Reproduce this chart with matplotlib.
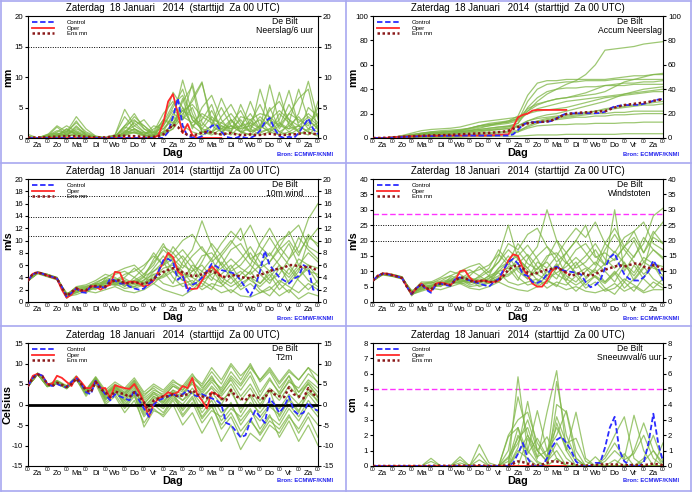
import numpy as np
import matplotlib.pyplot as plt
from matplotlib.lines import Line2D

plt.rcParams['font.family'] = ['Liberation Sans', 'DejaVu Sans']

# time axes in days since Za 18 Jan 00 UTC
t6 = np.arange(61) * 0.25
t12 = np.arange(31) * 0.5
days = ['Za', 'Zo', 'Ma', 'Di', 'Wo', 'Do', 'Vr', 'Za', 'Zo', 'Ma', 'Di', 'Wo', 'Do', 'Vr', 'Za']
title = 'Zaterdag  18 Januari   2014  (starttijd  Za 00 UTC)'

# ---------------- Neerslag / 6 uur (mm) ----------------
pr_ctrl = [0, 0, 0, 0,  0, 0, 0, 0,  0, 0, 0, 0,  0, 0, 0, 0,  0, 0, 0, 0,
           0, 0, 0, 0,  0, 0, 0, 0,  0, 1.0, 3.5, 6.5,  2.0, 0.3, 0.1, 0,
           0.3, 1.0, 2.0, 2.2,  1.0, 0.2, 0, 0,  0.3, 0, 0, 0.4,  1.2, 2.6, 3.3, 1.5,
           0.3, 0, 0.2, 0,  0.8, 2.0, 3.2, 1.5,  0.6]
pr_oper = [0, 0, 0, 0,  0, 0, 0, 0,  0, 0, 0, 0,  0, 0, 0, 0,  0, 0, 0, 0,
           0, 0, 0, 0,  0, 0, 0, 0.5,  2.5, 6.0, 7.2, 4.0,  0.8, 2.3, 0.5, 0,
           0, 0, 0, 0,  0]
pr_mean = [0.05, 0.05, 0.1, 0.1,  0.15, 0.2, 0.2, 0.25,  0.3, 0.3, 0.3, 0.25,
           0.2, 0.15, 0.1, 0.1,  0.1, 0.2, 0.3, 0.35,  0.35, 0.3, 0.3, 0.25,
           0.2, 0.15, 0.2, 0.3,  0.6, 1.3, 2.2, 1.8,  1.0, 0.5, 0.4, 0.6,
           0.9, 1.0, 0.9, 0.7,  0.6, 0.7, 0.8, 0.6,  0.5, 0.5, 0.6, 0.5,
           0.5, 0.6, 0.7, 0.6,  0.5, 0.5, 0.6, 0.6,  0.7, 0.8, 0.8, 0.7,  0.6]
pr_members = [
    [0.6, 0, 0, 0.5, 1.2, 0.8, 0.3, 0.2, 0, 0.3, 0.8, 1.0, 0.5, 0.3, 1.5, 3.0, 9.5, 4.0, 1.0, 0.5, 1.5, 2.0, 1.0, 0.5, 0.8, 1.5, 0.5, 1.0, 2.0, 1.0, 0.3],
    [0, 0, 0.3, 1.8, 0.5, 0.3, 0.1, 0, 0, 0, 1.0, 2.5, 1.0, 0.5, 2.0, 4.5, 3.5, 9.0, 2.5, 1.0, 0.5, 3.0, 1.5, 2.0, 3.0, 1.0, 0.5, 2.5, 1.0, 3.0, 1.5],
    [0, 0, 0, 0.5, 1.0, 3.5, 1.5, 0.3, 0, 0.5, 4.7, 2.0, 1.0, 0.2, 0.5, 1.5, 5.0, 2.0, 0.8, 2.0, 5.0, 2.0, 1.0, 3.0, 1.5, 8.7, 2.5, 1.0, 0.5, 1.5, 1.0],
    [0, 0, 0.2, 0.8, 0.5, 1.5, 0.8, 0.2, 0, 0.3, 1.5, 3.5, 2.0, 0.5, 1.0, 2.0, 4.0, 6.0, 9.0, 3.0, 1.0, 0.5, 2.0, 4.0, 1.5, 3.0, 2.0, 1.5, 4.0, 9.3, 3.0],
    [0, 0, 0.5, 2.0, 1.0, 2.5, 1.0, 0.3, 0.1, 0.5, 3.5, 1.5, 0.5, 0.3, 2.5, 5.5, 7.0, 3.0, 1.5, 3.5, 2.0, 1.0, 5.5, 2.0, 1.0, 1.5, 3.0, 7.8, 2.0, 1.0, 0.5],
    [0, 0, 0, 0.3, 0.8, 1.2, 0.5, 0, 0, 0.2, 2.0, 3.0, 1.5, 0.8, 3.0, 2.0, 6.5, 1.5, 5.0, 7.0, 3.0, 1.0, 0.5, 2.5, 5.5, 2.0, 1.0, 0.5, 1.5, 2.5, 4.0],
    [0, 0, 0.2, 1.0, 2.0, 1.0, 0.3, 0.1, 0, 0, 0.5, 1.5, 0.8, 1.0, 4.0, 6.0, 3.0, 5.0, 1.0, 0.8, 2.5, 4.0, 2.0, 1.0, 8.0, 3.0, 1.0, 2.0, 3.5, 1.5, 2.5],
    [0, 0, 0, 0.5, 0.5, 2.0, 0.5, 0.2, 0, 0.1, 1.0, 2.0, 3.0, 1.0, 0.5, 2.5, 4.5, 3.5, 2.0, 4.5, 1.5, 3.0, 1.0, 0.5, 2.0, 4.5, 6.0, 3.0, 1.0, 5.0, 3.5],
    [0.3, 0, 0.5, 0.5, 1.5, 0.5, 0.2, 0, 0.1, 0.3, 0.5, 1.0, 0.5, 0.2, 1.0, 2.0, 6.0, 8.5, 1.0, 2.0, 6.5, 3.0, 1.0, 1.5, 0.5, 1.0, 2.0, 4.0, 6.5, 8.0, 1.0],
    [0, 0, 0.1, 0.6, 0.3, 0.8, 0.3, 0, 0, 0, 0.8, 1.5, 0.5, 2.0, 1.5, 3.5, 2.0, 1.0, 0.5, 1.0, 2.0, 1.5, 3.0, 1.0, 2.0, 1.0, 2.5, 1.5, 2.0, 1.0, 6.0],
    [0, 0, 0.4, 1.2, 0.8, 2.8, 0.6, 0.1, 0, 0.2, 2.0, 4.0, 1.5, 0.5, 1.0, 4.0, 3.0, 6.5, 9.2, 2.0, 1.0, 2.5, 4.5, 1.5, 3.5, 2.0, 7.5, 2.0, 1.0, 0.5, 2.0],
    [0, 0, 0, 0.3, 1.5, 0.5, 0.2, 0, 0, 0.4, 1.2, 0.8, 0.5, 1.5, 2.5, 7.5, 5.0, 2.0, 3.0, 5.5, 1.0, 2.0, 1.5, 6.0, 2.0, 1.0, 4.0, 2.5, 8.0, 3.0, 1.5],
    [0, 0, 0.6, 0.8, 0.4, 1.8, 0.4, 0.1, 0, 0, 0.6, 2.8, 2.0, 0.8, 2.0, 5.0, 8.0, 3.0, 1.5, 1.0, 3.5, 5.5, 2.5, 1.0, 1.5, 5.0, 1.5, 4.0, 3.0, 2.0, 5.0],
    [0.2, 0, 0.2, 0.4, 0.6, 1.0, 0.2, 0, 0, 0.3, 1.8, 1.2, 0.8, 0.4, 3.0, 2.5, 4.5, 5.5, 3.5, 2.5, 1.5, 1.0, 3.5, 3.0, 4.0, 3.5, 2.0, 5.5, 2.5, 4.0, 2.5],
    [0, 0, 0.1, 0.2, 0.3, 0.6, 0.2, 0, 0, 0.1, 0.4, 0.9, 0.3, 0.2, 0.8, 1.5, 3.5, 2.5, 4.0, 3.0, 2.5, 1.5, 2.0, 2.5, 1.5, 3.0, 4.5, 3.0, 2.0, 3.5, 2.0],
]

# ---------------- Accum Neerslag (mm) ----------------
ac_ctrl = [0, 0, 0, 0,  0.2, 0.5, 0.8, 1.0,  1.2, 1.3, 1.4, 1.5,  1.5, 1.6, 1.7, 1.8,
           1.8, 1.9, 1.9, 2.0,  2.0, 2.0, 2.0, 2.0,  2.0, 2.0, 2.0, 2.0,  2.0, 3.0, 6.5, 11.0,
           12.5, 13.0, 13.0, 13.0,  13.2, 14.0, 16.0, 18.5,  20.0, 20.2, 20.2, 20.2,
           20.3, 20.3, 20.3, 20.5,  21.5, 24.0, 26.0, 26.5,  27.0, 27.0, 27.2, 27.2,
           28.0, 29.0, 30.5, 31.5,  32.0]
ac_oper = [0, 0, 0, 0.2,  0.5, 0.8, 1.0, 1.2,  1.4, 1.5, 1.6, 1.7,  1.8, 1.8, 1.9, 1.9,
           2.0, 2.0, 2.0, 2.0,  2.0, 2.0, 2.0, 2.0,  2.2, 2.3, 2.5, 2.8,  3.0, 9.0, 17.0, 19.0,
           20.0, 22.5, 23.0, 23.0,  23.0, 23.0, 23.0, 23.0,  23.0]
ac_mean = [0, 0, 0.1, 0.3,  0.5, 0.8, 1.0, 1.2,  1.4, 1.6, 1.8, 2.0,  2.1, 2.2, 2.3, 2.4,
           2.6, 2.8, 3.0, 3.2,  3.4, 3.6, 3.8, 4.0,  4.2, 4.5, 4.8, 5.2,  6.0, 7.5, 9.0, 10.5,
           12.0, 12.5, 13.0, 13.3,  13.6, 14.5, 16.0, 18.0,  19.6, 20.0, 20.5, 20.8,
           21.0, 21.2, 21.5, 21.8,  22.0, 23.5, 25.0, 26.0,  27.0, 27.5, 28.0, 28.5,
           29.0, 29.5, 30.5, 31.0,  32.0]
ac_members = [
    [0, 0, 0.5, 1, 2, 3, 4, 4.5, 5, 5.5, 6, 7, 8, 9, 10, 12, 22, 30, 36, 40, 44, 47, 52, 60, 72, 73, 74, 75, 77, 78, 79],
    [0, 0, 0.3, 1, 2, 2.5, 3, 3.5, 4, 5, 6, 8, 10, 12, 14, 18, 35, 45, 47, 47, 48, 48, 48, 48, 48, 49, 50, 51, 51, 52, 52],
    [0, 0, 0, 0.5, 1, 2, 2.5, 3, 3, 4, 5, 6, 7, 8, 9, 12, 25, 33, 38, 40, 41, 41, 42, 42, 43, 43, 43, 44, 44, 44, 44],
    [0, 0, 0.5, 1.5, 3, 4, 5, 5, 5.5, 6, 8, 10, 11, 12, 13, 16, 24, 28, 30, 32, 33, 34, 35, 36, 38, 42, 46, 48, 50, 52, 53],
    [0, 0, 0, 0.2, 0.5, 1, 1, 1, 1, 1.5, 2, 3, 3.5, 4, 4.5, 5, 8, 10, 10.5, 11, 11, 11.5, 11.5, 12, 12, 12, 12.5, 12.5, 13, 13, 13],
    [0, 0, 0, 0, 0.2, 0.5, 0.5, 0.5, 0.5, 0.5, 1, 1, 1.2, 1.5, 1.5, 1.5, 2, 2.5, 2.5, 2.5, 3, 3, 3, 3, 3, 3, 3.5, 3.5, 3.5, 3.5, 3.5],
    [0, 0, 0.5, 2, 4, 6, 7, 7.5, 8, 9, 11, 13, 14, 15, 16, 17, 20, 22, 23, 24, 25, 27, 29, 31, 33, 34, 35, 36, 37, 38, 38],
    [0, 0, 0.2, 1, 2, 3, 3.5, 4, 4, 5, 6, 7, 8, 9, 9.5, 10, 14, 17, 19, 20, 22, 24, 26, 28, 30, 33, 36, 38, 40, 41, 42],
    [0, 0, 0, 0.5, 1, 1.5, 1.5, 1.5, 1.5, 1.8, 2, 2.2, 2.5, 2.8, 3, 5, 10, 13, 15, 16, 17, 18, 19, 20, 20, 21, 21, 22, 22, 22, 22],
    [0, 0, 0.3, 1, 2, 3, 3.5, 4, 4, 4.5, 5, 6, 6.5, 7, 7.5, 9, 12, 14, 16, 17, 18, 19, 20, 22, 24, 25, 26, 27, 28, 29, 30],
    [0, 0, 0.5, 1.5, 2.5, 4, 5, 6, 6.5, 7, 8, 10, 11, 12, 13, 15, 20, 24, 26, 28, 30, 31, 32, 33, 34, 35, 36, 37, 38, 39, 40],
    [0, 0, 0.2, 0.8, 1.5, 2, 2.5, 3, 3, 3.5, 4, 5, 6, 7, 8, 10, 14, 16, 17, 18, 19, 20, 21, 22, 23, 24, 25, 26, 27, 27, 28],
    [0, 0, 0.3, 1, 2, 3, 4, 4.5, 5, 6, 7, 9, 10, 11, 12, 14, 30, 40, 44, 45, 46, 46, 47, 47, 47, 48, 48, 48, 48, 48, 48],
    [0, 0, 0, 0.3, 0.8, 1.2, 1.5, 1.8, 2, 2.5, 3, 4, 4.5, 5, 5.5, 6, 9, 12, 14, 15, 16, 17, 17, 18, 18, 19, 19, 19.5, 20, 20, 20],
    [0, 0, 0.4, 1.2, 2.5, 3.5, 4.5, 5, 5.5, 6.5, 8, 10, 12, 13, 14, 16, 22, 27, 30, 32, 33, 35, 37, 40, 43, 44, 45, 45, 46, 46, 47],
]

# ---------------- 10m wind (m/s) ----------------
wi_ctrl = [3.5, 4.5, 4.8, 4.6,  4.3, 4.1, 3.8, 2.5,  0.8, 1.5, 2.2, 1.6,  1.5, 2.6, 2.4, 2.5,
           2.3, 3.8, 3.5, 3.0,  3.0, 2.5, 2.2, 2.0,  2.2, 3.0, 3.5, 5.0,  6.8, 7.0, 6.5, 3.6,
           4.3, 1.7, 2.8, 3.2,  4.0, 5.0, 6.2, 5.8,  5.2, 5.0, 4.8, 4.5,  3.5, 2.3, 1.0, 2.5,
           5.0, 8.3, 6.0, 5.0,  4.0, 3.5, 3.0, 3.8,  4.2, 6.0, 5.5, 2.0,  2.0]
wi_oper = [3.5, 4.6, 4.8, 4.6,  4.3, 4.0, 3.8, 2.0,  0.7, 1.2, 2.3, 1.8,  1.8, 2.6, 2.5, 2.0,
           2.5, 2.8, 4.9, 4.8,  3.0, 3.3, 3.3, 3.0,  2.5, 2.8, 3.5, 5.0,  6.5, 8.0, 7.3, 5.0,
           4.3, 2.2, 2.1, 2.2,  3.5, 4.8, 5.8, 5.0,  4.2]
wi_mean = [3.5, 4.6, 4.8, 4.6,  4.3, 4.1, 3.8, 2.4,  1.0, 1.6, 2.2, 1.9,  1.9, 2.5, 2.6, 2.5,
           2.5, 3.2, 3.5, 3.5,  3.0, 3.1, 3.2, 3.1,  2.9, 3.3, 3.8, 4.4,  4.9, 5.2, 5.5, 5.3,
           4.8, 4.6, 4.2, 4.3,  4.5, 4.8, 5.0, 4.7,  4.2, 4.0, 4.3, 4.4,  4.1, 3.9, 3.9, 4.2,
           4.4, 4.7, 5.0, 5.3,  5.4, 5.6, 6.0, 6.0,  5.8, 5.6, 5.8, 5.5,  5.0]
wi_members = [
    [3.5, 4.9, 4.4, 3.9, 1.0, 1.8, 2.0, 2.8, 3.5, 3.2, 3.0, 2.5, 3.5, 5.5, 7.5, 5.0, 3.5, 5.0, 6.0, 4.0, 3.0, 5.5, 7.0, 9.0, 6.5, 5.0, 7.0, 9.5, 6.0, 8.0, 6.5],
    [3.6, 4.7, 4.2, 3.7, 1.2, 2.0, 1.5, 2.5, 3.0, 3.8, 2.5, 4.0, 5.5, 8.0, 6.0, 9.0, 7.0, 4.0, 3.0, 2.0, 4.5, 6.0, 3.5, 5.0, 8.0, 10.5, 8.0, 6.0, 4.0, 5.5, 3.0],
    [3.4, 4.8, 4.5, 4.0, 0.6, 2.2, 2.5, 2.0, 3.8, 2.8, 3.5, 3.0, 2.5, 4.5, 5.0, 3.0, 6.5, 8.5, 13.2, 9.0, 6.0, 4.0, 5.0, 3.5, 2.5, 4.0, 6.0, 3.0, 5.0, 10.0, 12.0],
    [3.5, 4.6, 4.1, 3.6, 1.5, 1.5, 2.2, 3.0, 2.5, 3.5, 4.0, 5.5, 4.0, 3.0, 4.5, 6.5, 5.0, 3.0, 2.5, 5.0, 7.5, 9.5, 12.0, 7.0, 5.5, 3.5, 4.5, 7.0, 9.0, 13.5, 16.0],
    [3.5, 4.8, 4.3, 3.8, 0.9, 1.2, 1.8, 1.5, 2.0, 2.5, 1.8, 1.5, 2.0, 3.0, 2.0, 1.5, 1.0, 2.0, 3.5, 2.5, 1.5, 2.0, 1.0, 0.8, 1.5, 2.5, 1.0, 2.0, 0.5, 1.5, 1.0],
    [3.6, 4.9, 4.5, 4.0, 1.1, 2.5, 2.8, 3.5, 4.5, 4.0, 3.0, 3.5, 4.5, 6.0, 9.0, 8.0, 10.0, 11.0, 8.5, 7.0, 9.5, 11.5, 10.0, 12.5, 9.0, 7.5, 10.0, 11.0, 12.5, 9.0, 8.0],
    [3.4, 4.7, 4.2, 3.9, 0.7, 1.9, 2.0, 2.2, 2.8, 3.0, 2.2, 2.5, 3.0, 3.5, 4.0, 5.0, 3.5, 6.0, 5.0, 7.0, 4.0, 3.0, 4.5, 6.0, 4.5, 3.0, 5.5, 4.0, 6.0, 5.0, 4.5],
    [3.5, 4.8, 4.4, 3.8, 1.3, 2.3, 1.8, 2.6, 3.2, 4.5, 5.0, 4.0, 3.0, 5.0, 6.0, 7.0, 8.5, 6.5, 4.0, 5.5, 3.0, 1.5, 3.0, 4.0, 2.0, 1.0, 3.0, 5.5, 3.5, 2.0, 3.5],
    [3.5, 4.7, 4.3, 3.7, 1.0, 2.0, 2.3, 2.4, 3.0, 3.3, 3.8, 3.0, 4.0, 7.0, 9.5, 6.5, 4.5, 4.0, 6.5, 9.5, 7.5, 5.0, 6.0, 8.0, 5.5, 6.5, 8.5, 10.0, 7.5, 11.0, 9.0],
    [3.5, 4.8, 4.3, 3.8, 0.8, 1.6, 2.1, 2.7, 2.6, 2.9, 3.2, 2.8, 3.6, 4.5, 3.0, 2.5, 3.0, 3.5, 2.0, 3.0, 2.5, 4.0, 2.0, 3.0, 1.5, 2.0, 3.5, 2.5, 1.5, 3.0, 2.0],
    [3.5, 4.8, 4.4, 3.9, 1.0, 2.1, 2.4, 3.2, 3.9, 4.8, 5.5, 6.0, 4.5, 6.5, 8.5, 7.0, 5.5, 7.5, 9.0, 6.5, 8.0, 10.0, 8.0, 6.0, 9.5, 12.0, 9.0, 11.5, 8.0, 10.5, 9.5],
    [3.6, 4.7, 4.2, 3.8, 0.9, 1.7, 1.9, 2.3, 3.4, 3.6, 2.6, 3.2, 4.2, 5.0, 6.5, 4.0, 2.5, 3.0, 5.0, 3.5, 6.5, 4.5, 2.5, 4.0, 3.0, 5.0, 3.0, 1.5, 4.0, 6.0, 4.0],
    [3.4, 4.8, 4.4, 3.9, 1.2, 2.4, 2.6, 3.0, 4.0, 3.5, 4.5, 5.0, 6.0, 7.5, 6.0, 8.0, 6.0, 5.0, 7.5, 8.0, 6.0, 8.5, 9.5, 7.0, 8.0, 6.5, 9.0, 7.0, 10.5, 8.5, 7.0],
    [3.5, 4.9, 4.5, 3.9, 0.9, 1.5, 2.1, 2.5, 3.1, 2.7, 2.9, 3.5, 3.2, 4.0, 5.5, 6.0, 7.5, 5.5, 3.5, 4.5, 5.5, 7.0, 5.5, 4.5, 6.0, 8.0, 6.0, 4.5, 7.0, 6.0, 5.5],
    [3.5, 4.7, 4.2, 3.7, 1.1, 1.9, 2.2, 2.9, 3.3, 3.1, 3.4, 2.2, 2.8, 3.8, 4.2, 5.5, 4.0, 2.5, 4.0, 6.0, 3.5, 2.5, 3.5, 5.0, 3.0, 4.5, 2.0, 3.5, 5.5, 3.5, 2.5],
]

# ---------------- Windstoten (m/s) ----------------
gu_ctrl = [7.0, 8.5, 9.2, 9.0,  8.7, 8.3, 7.8, 5.0,  2.5, 4.5, 5.8, 4.0,  3.0, 5.5, 6.0, 5.5,
           5.2, 7.5, 8.0, 7.5,  7.0, 6.5, 6.0, 5.5,  5.0, 6.5, 7.5, 10.5,  13.0, 14.0, 12.5, 9.0,
           8.5, 6.5, 6.2, 7.0,  9.0, 11.0, 11.5, 10.5,  10.0, 9.8, 9.5, 9.0,  6.5, 4.8, 5.5, 7.0,
           11.0, 14.5, 15.8, 12.0,  9.0, 7.5, 7.0, 7.0,  8.0, 10.0, 13.5, 11.0,  7.0]
gu_oper = [7.0, 8.5, 9.3, 9.2,  8.8, 8.3, 7.8, 5.0,  2.5, 4.5, 6.0, 4.5,  3.5, 6.0, 6.3, 6.0,
           5.5, 7.0, 10.0, 10.3,  8.0, 6.5, 6.8, 7.0,  6.5, 6.5, 7.0, 10.0,  13.5, 15.5, 15.0, 11.0,
           8.5, 6.0, 5.0, 5.0,  7.0, 10.0, 11.5, 10.5,  9.5]
gu_mean = [7.0, 8.5, 9.2, 9.1,  8.7, 8.3, 7.8, 5.0,  2.8, 4.5, 5.8, 4.5,  4.0, 5.7, 6.0, 5.8,
           5.5, 7.0, 8.0, 7.8,  7.0, 6.5, 6.8, 7.0,  6.5, 6.5, 7.0, 8.5,  10.5, 11.5, 12.0, 11.0,
           9.5, 9.0, 9.5, 10.0,  10.5, 10.8, 11.0, 10.5,  9.5, 8.5, 9.0, 9.5,  9.0, 8.5, 9.0, 10.0,
           10.5, 11.0, 11.5, 12.0,  11.5, 12.0, 12.5, 12.5,  11.5, 11.0, 12.0, 11.5,  10.5]
gu_members = [
    [7.0, 9.3, 8.8, 8.0, 3.0, 5.0, 5.5, 6.5, 7.5, 7.0, 6.5, 6.0, 7.5, 11.0, 15.0, 10.0, 7.5, 11.0, 13.0, 9.0, 7.0, 12.0, 15.0, 19.0, 14.0, 11.0, 15.0, 20.0, 13.0, 17.0, 14.0],
    [7.2, 9.0, 8.5, 7.8, 3.5, 5.5, 4.5, 6.0, 6.5, 8.0, 6.0, 8.5, 11.0, 17.0, 13.0, 19.0, 15.0, 9.0, 7.0, 5.0, 10.0, 13.0, 8.0, 11.0, 17.0, 22.0, 17.0, 13.0, 9.0, 12.0, 7.0],
    [6.8, 9.2, 9.0, 8.2, 2.0, 6.0, 6.5, 5.0, 8.0, 6.5, 7.5, 7.0, 6.0, 10.0, 11.0, 7.0, 14.0, 18.0, 30.0, 20.0, 13.0, 9.0, 11.0, 8.0, 6.0, 9.0, 13.0, 7.0, 11.0, 22.0, 26.0],
    [7.0, 8.8, 8.3, 7.5, 3.8, 4.0, 5.0, 6.5, 5.5, 7.5, 8.5, 11.5, 8.5, 6.5, 10.0, 14.0, 11.0, 7.0, 6.0, 11.0, 16.0, 20.0, 25.0, 15.0, 12.0, 30.0, 10.0, 15.0, 19.0, 28.0, 30.5],
    [7.0, 9.2, 8.6, 7.8, 2.5, 3.5, 4.5, 4.0, 5.0, 6.0, 4.5, 4.0, 5.0, 6.5, 5.0, 4.0, 3.5, 5.0, 7.0, 5.5, 4.0, 5.0, 3.5, 3.0, 4.0, 6.0, 3.5, 5.0, 3.0, 4.0, 4.0],
    [7.2, 9.4, 9.0, 8.2, 3.2, 6.5, 6.5, 8.0, 10.0, 9.0, 7.0, 8.0, 10.0, 13.0, 19.0, 17.0, 22.0, 24.0, 18.0, 15.0, 20.0, 24.0, 21.0, 26.0, 19.0, 16.0, 21.0, 23.0, 26.0, 19.0, 17.0],
    [6.8, 9.0, 8.4, 7.9, 2.2, 4.8, 5.0, 5.2, 6.2, 6.5, 5.0, 5.5, 6.5, 7.5, 8.5, 11.0, 7.5, 13.0, 11.0, 15.0, 8.5, 6.5, 10.0, 13.0, 10.0, 6.5, 12.0, 8.5, 13.0, 11.0, 10.0],
    [7.0, 9.2, 8.7, 7.9, 3.3, 5.6, 4.3, 5.8, 7.0, 9.5, 10.5, 8.5, 6.5, 11.0, 13.0, 15.0, 18.5, 14.0, 8.5, 12.0, 6.5, 3.5, 6.5, 8.5, 4.5, 2.5, 6.5, 12.0, 7.5, 4.5, 7.5],
    [7.0, 9.0, 8.6, 7.6, 2.8, 4.8, 5.5, 5.6, 6.8, 7.2, 8.0, 6.5, 8.5, 15.0, 25.0, 14.0, 10.0, 9.0, 14.0, 20.0, 16.0, 11.0, 13.0, 17.0, 12.0, 14.0, 18.0, 21.0, 16.0, 23.0, 19.0],
    [7.0, 9.1, 8.6, 7.8, 2.6, 4.2, 5.2, 6.0, 5.8, 6.4, 7.0, 6.2, 7.8, 9.5, 6.5, 5.5, 6.5, 7.5, 4.5, 6.5, 5.5, 8.5, 4.5, 6.5, 3.5, 4.5, 7.5, 5.5, 3.5, 6.5, 4.5],
    [7.1, 9.3, 8.8, 8.0, 3.0, 5.5, 6.0, 7.5, 8.5, 10.0, 11.5, 12.5, 9.5, 13.0, 17.0, 14.0, 11.0, 15.0, 18.0, 13.0, 16.0, 20.0, 16.0, 12.0, 19.0, 24.0, 18.0, 23.0, 16.0, 21.0, 19.0],
    [7.0, 9.0, 8.5, 7.7, 2.7, 4.5, 4.8, 5.5, 7.0, 7.5, 5.5, 6.5, 8.5, 10.0, 13.0, 8.0, 5.5, 6.5, 10.0, 7.5, 13.0, 9.5, 5.5, 8.5, 6.5, 10.0, 6.5, 3.5, 8.0, 12.0, 8.5],
    [6.9, 9.2, 8.8, 8.0, 3.1, 5.8, 6.2, 6.8, 8.5, 7.5, 9.5, 10.5, 12.0, 15.5, 12.0, 16.5, 12.5, 10.5, 15.0, 16.0, 12.5, 17.0, 19.0, 14.5, 16.0, 13.5, 18.0, 14.5, 21.0, 17.0, 14.5],
    [7.0, 9.3, 8.9, 8.1, 2.4, 3.8, 5.0, 5.8, 6.6, 6.0, 6.4, 7.5, 7.0, 8.5, 11.5, 12.5, 15.5, 11.5, 7.5, 9.5, 11.5, 14.5, 11.5, 9.5, 12.5, 16.5, 12.5, 9.5, 14.5, 12.5, 11.5],
    [7.0, 9.0, 8.4, 7.6, 2.9, 4.6, 5.1, 6.2, 7.1, 6.7, 7.2, 5.0, 6.2, 8.0, 9.0, 11.5, 8.5, 5.5, 8.5, 12.5, 7.5, 5.5, 7.5, 10.5, 6.5, 9.5, 4.5, 7.5, 11.5, 7.5, 5.5],
]

# ---------------- T2m (Celsius) ----------------
tt_ctrl = [4.5, 6.5, 7.5, 7.0,  5.0, 4.5, 5.0, 4.5,  4.2, 5.5, 6.5, 5.0,  3.0, 2.5, 5.8, 4.0,
           2.5, 1.0, 2.5, 2.0,  1.5, 1.0, 3.5, 1.0,  -1.0, -3.0, 0.0, 1.0,  1.5, 2.0, 2.5, 2.0,
           2.5, 3.5, 2.5, 2.0,  2.5, 2.0, 1.5, 1.0,  0.0, -4.5, -5.0, -6.5,  -8.0, -7.5, -4.0, -1.5,
           -3.0, -4.5, 1.5, 0.0,  -2.0, -0.5, 2.0, -1.5,  -2.5, -2.0, 0.5, -1.0,  -1.5]
tt_oper = [4.5, 7.0, 7.5, 7.0,  5.0, 5.0, 7.0, 6.5,  5.5, 4.5, 6.8, 5.5,  4.0, 4.0, 5.8, 4.0,
           4.0, 1.5, 4.7, 4.3,  4.0, 3.8, 5.0, 3.0,  0.5, -3.0, 0.0, 1.5,  2.0, 3.0, 2.5, 3.0,
           4.5, 4.0, 6.5, 2.5,  1.0, -1.0, 3.0, 2.5,  1.5]
tt_mean = [4.5, 6.5, 7.3, 6.8,  5.0, 4.5, 5.3, 4.8,  4.3, 5.0, 6.3, 5.0,  3.5, 3.0, 5.5, 3.8,
           3.0, 1.8, 3.2, 2.8,  2.5, 1.8, 3.0, 2.0,  0.5, -1.5, 1.0, 1.5,  2.0, 2.0, 2.5, 2.0,
           2.2, 2.5, 3.5, 2.5,  2.0, 1.5, 3.0, 2.5,  1.5, 1.0, 3.5, 2.0,  1.5, 1.0, 2.5, 2.0,
           1.5, 1.5, 3.8, 2.5,  2.0, 1.8, 4.2, 2.5,  2.0, 1.5, 4.0, 2.5,  2.0]
tt_members = [
    [4.5, 7.5, 4.5, 5.0, 4.0, 6.5, 2.5, 6.0, 1.5, 3.0, 1.0, 4.0, -1.0, 2.0, 1.0, 3.0, 2.0, 5.5, 3.0, 6.0, 4.0, 8.0, 5.0, 9.0, 6.0, 8.5, 5.0, 8.0, 6.0, 9.0, 7.0],
    [4.6, 7.3, 4.8, 5.5, 4.5, 6.0, 3.0, 5.5, 2.5, 4.5, 2.0, 5.0, 0.5, 2.5, 1.5, 3.5, 1.0, 3.0, 0.0, 2.0, -2.0, 0.0, -4.0, -1.0, -6.0, -2.5, -8.0, -4.0, -9.0, -5.0, -10.0],
    [4.4, 7.6, 4.6, 5.8, 4.2, 6.8, 3.5, 6.5, 3.0, 5.0, 3.5, 6.0, 2.5, 4.0, 2.0, 4.5, 3.0, 5.0, 2.0, 4.0, 1.0, 3.0, -1.0, 2.0, -3.0, 0.0, -1.0, 2.5, 0.0, 3.0, 1.0],
    [4.5, 7.4, 4.4, 5.2, 3.8, 6.2, 2.0, 5.0, 0.0, 2.0, -2.0, 1.0, -4.5, -1.0, -3.0, 0.0, -5.0, -2.0, -7.0, -3.0, -9.0, -5.0, -11.0, -7.0, -9.0, -5.0, -7.0, -3.0, -6.0, -2.0, -5.0],
    [4.5, 7.5, 4.7, 5.6, 4.3, 6.6, 3.2, 6.2, 2.8, 4.0, 2.5, 5.5, 1.5, 3.5, 2.5, 5.0, 3.5, 6.5, 4.5, 8.0, 5.0, 9.5, 6.0, 10.0, 5.5, 8.0, 4.0, 7.0, 3.0, 6.0, 4.0],
    [4.5, 7.4, 4.5, 5.4, 4.1, 6.4, 2.8, 5.8, 1.0, 3.5, 0.0, 2.5, -2.5, 0.5, -1.0, 2.0, 0.0, 3.0, -2.0, 1.0, -4.0, -1.0, -3.0, 0.5, -2.0, 1.0, -4.0, 0.0, -3.0, 1.0, -2.0],
    [4.4, 7.6, 4.6, 5.3, 4.4, 6.7, 3.3, 6.3, 2.0, 4.2, 1.5, 4.5, -1.5, 1.5, 0.5, 3.5, 2.5, 5.5, 3.5, 7.0, 3.0, 6.0, 2.0, 5.0, 1.0, 4.0, 2.0, 6.0, 3.0, 5.0, 2.0],
    [4.5, 7.5, 4.5, 5.5, 4.0, 6.0, 2.5, 5.5, 0.5, 2.5, -1.0, 2.0, -3.0, 0.0, -2.0, 1.5, -1.0, 2.0, -3.0, 0.0, -6.0, -3.0, -8.0, -4.0, -7.0, -3.0, -5.0, -1.0, -4.0, 0.0, -3.0],
    [4.6, 7.7, 4.9, 5.9, 4.6, 7.0, 3.6, 6.8, 3.5, 5.5, 4.0, 6.5, 3.0, 5.0, 3.5, 6.0, 4.0, 7.0, 5.0, 9.0, 6.0, 10.0, 7.0, 9.5, 6.0, 9.0, 5.5, 8.5, 6.0, 9.0, 5.0],
    [4.5, 7.3, 4.3, 5.1, 3.9, 6.3, 2.7, 5.7, 1.8, 3.8, 1.0, 3.5, -0.5, 2.0, 0.0, 2.5, 1.0, 4.0, 1.0, 4.5, 2.0, 5.0, 1.0, 4.0, 0.0, 3.5, 1.0, 4.5, 2.0, 5.0, 1.5],
    [4.5, 7.4, 4.6, 5.7, 4.4, 6.5, 3.4, 6.6, 2.5, 4.8, 3.0, 5.8, 1.0, 3.0, 0.5, 3.0, -1.5, 1.5, -3.5, -0.5, -5.0, -2.0, -6.5, -3.5, -7.5, -4.0, -6.0, -2.5, -7.0, -3.0, -8.0],
    [4.4, 7.5, 4.5, 5.3, 4.0, 6.1, 2.9, 5.9, 2.2, 4.4, 2.8, 5.2, 2.0, 4.5, 3.0, 5.5, 4.5, 7.5, 4.0, 6.5, 3.5, 7.0, 4.5, 8.0, 3.0, 6.5, 2.5, 5.5, 4.0, 7.5, 5.5],
    [4.6, 7.6, 4.7, 5.6, 4.2, 6.5, 3.1, 6.0, 1.2, 3.2, 0.5, 3.0, -2.0, 1.0, -0.5, 2.5, -2.5, 0.5, -4.5, -1.5, -3.0, 0.5, -5.0, -1.5, -4.0, -0.5, -2.5, 1.5, -1.5, 2.5, -0.5],
    [4.5, 7.5, 4.6, 5.4, 4.3, 6.4, 3.0, 6.1, 2.6, 4.6, 2.2, 4.8, 0.0, 3.0, 1.8, 4.5, 3.5, 6.0, 2.5, 5.5, 2.5, 6.5, 3.5, 7.0, 2.0, 6.0, 3.0, 7.0, 1.5, 5.5, 3.0],
    [4.5, 7.4, 4.4, 5.3, 4.1, 6.3, 2.6, 5.6, 1.5, 3.6, -0.5, 2.5, -5.5, -1.5, -2.5, 1.0, -3.0, 0.0, -1.0, 3.0, 0.0, 4.0, -2.0, 2.5, -1.0, 3.5, -3.0, 1.0, -2.0, 4.0, 0.5],
]

# ---------------- Sneeuwval / 6 uur (cm) ----------------
sn_ctrl = [0, 0, 0, 0,  0, 0, 0, 0,  0, 0, 0, 0,  0, 0, 0, 0,  0, 0, 0, 0,
           0, 0, 0, 0,  0, 0, 0, 0,  0, 0.2, 0.8, 1.5,  0.5, 0, 0, 0,
           0.5, 1.2, 1.7, 1.9,  1.5, 1.0, 0.3, 0,  0, 0, 0.2, 0.2,  1.2, 2.5, 3.2, 1.0,
           0.3, 0.1, 0, 0,  0.2, 1.5, 3.4, 1.5,  0.3]
sn_oper = [0] * 41
sn_mean = [0, 0, 0, 0,  0, 0, 0, 0,  0, 0, 0, 0,  0.01, 0.02, 0.02, 0.01,  0.01, 0.02, 0.03, 0.02,
           0.02, 0.03, 0.04, 0.02,  0.01, 0.01, 0.02, 0.03,  0.05, 0.15, 0.3, 0.25,
           0.15, 0.1, 0.05, 0.1,  0.2, 0.3, 0.3, 0.2,  0.2, 0.15, 0.05, 0.05,
           0.02, 0.05, 0.05, 0.1,  0.1, 0.1, 0.1, 0.08,  0.05, 0.05, 0.08, 0.05,
           0.05, 0.1, 0.15, 0.1,  0.05]
sn_members = [
    [0, 0, 0, 0, 0, 0, 0, 0, 0, 0, 0, 0, 0, 0, 0, 5.8, 1.0, 0.2, 0, 0.5, 0, 0, 0, 0, 0, 0, 0, 0, 0, 0, 0],
    [0, 0, 0, 0, 0, 0, 0, 0, 0, 0.6, 0, 0, 0, 0, 1.0, 4.5, 2.0, 0.5, 3.5, 6.2, 1.0, 0, 0, 0, 0, 0, 0, 0, 0, 0, 0],
    [0, 0, 0, 0, 0, 0, 0.5, 0, 0, 0, 0, 1.4, 0.2, 0, 2.0, 3.0, 3.5, 1.5, 0.5, 5.5, 2.0, 0.5, 0, 0, 0, 0, 0, 0, 0, 0, 0],
    [0, 0, 0, 0, 0, 0, 0, 0, 0, 0.4, 0, 0, 0, 0, 0, 2.0, 1.0, 3.6, 1.0, 2.0, 3.6, 1.0, 0, 0, 0.5, 1.5, 0.5, 3.3, 1.0, 0, 0],
    [0, 0, 0, 0, 0, 0, 0, 0, 0, 0, 0, 0.8, 0, 0, 0.5, 1.5, 3.0, 1.0, 1.9, 0.5, 0, 0, 0, 0, 0.7, 2.0, 3.2, 0.5, 0, 0, 0],
    [0, 0, 0, 0, 0, 0, 0, 0, 0, 0, 0, 0, 0, 0, 0, 1.0, 0.5, 0, 0, 4.0, 3.5, 0.5, 0, 0, 0, 0, 0, 1.0, 2.8, 1.0, 0],
    [0, 0, 0, 0, 0, 0, 0, 0, 0, 0, 0, 0, 0, 0, 0, 0, 1.8, 0.3, 0, 0, 0, 0, 0, 0, 0, 0, 0, 0, 0.5, 2.0, 0.3],
    [0, 0, 0, 0, 0, 0, 0, 0, 0, 0, 0, 0, 0, 0, 1.9, 2.5, 0, 0, 0, 0, 0, 0, 0, 0, 0, 0, 0, 0, 0, 0, 0],
    [0, 0, 0, 0, 0, 0, 0, 0, 0, 0, 0, 0, 0, 0, 0, 0, 0, 0, 0, 2.8, 1.0, 3.5, 0.5, 0, 0, 0, 0, 0, 0, 0, 1.5],
    [0, 0, 0, 0, 0, 0, 0, 0, 0, 0, 0, 0, 0, 0, 0, 0.8, 2.0, 1.0, 0.3, 1.5, 0.5, 0, 0, 0.6, 0, 0, 0, 0, 0, 0, 0],
    [0, 0, 0, 0, 0, 0, 0, 0, 0, 0.2, 0, 0, 0, 0, 0.6, 1.8, 2.5, 0.6, 1.0, 2.5, 1.2, 0.3, 0, 0, 0.3, 1.0, 0.4, 0.8, 2.0, 0.5, 0],
    [0, 0, 0, 0, 0, 0, 0, 0, 0, 0, 0, 0, 0, 0, 0.3, 2.5, 0.8, 1.8, 0.6, 3.2, 1.5, 1.8, 0.3, 0, 0, 0.4, 0, 0, 0, 0, 0],
    [0, 0, 0, 0, 0, 0, 0.3, 0, 0, 0, 0, 0.4, 0, 0, 0, 1.2, 4.2, 1.0, 0.3, 1.0, 0, 0, 0, 0, 0, 0, 0.8, 0, 0.3, 1.0, 0.2],
]

W, H = 692.0, 492.0
col_left = [28, 373]
row_top = [16, 179, 343]
row_bot = [138, 302, 466]

C_ENS = '#7db544'
C_CTRL = '#2b2bff'
C_OPER = '#ff2a2a'
C_MEAN = '#8b1a1a'

fig = plt.figure(figsize=(W / 100, H / 100), dpi=100)

# panel frames (outer border and separators), in pixels
frame_segments = [((1, 1), (691, 1)), ((1, 491), (691, 491)), ((1, 1), (1, 491)),
                  ((691, 1), (691, 491)), ((346, 1), (346, 491)),
                  ((1, 163), (691, 163)), ((1, 326), (691, 326))]
for (x0, y0), (x1, y1) in frame_segments:
    fig.add_artist(Line2D([x0 / W, x1 / W], [1 - y0 / H, 1 - y1 / H], color='#a8a8f0', lw=1.2))


def panel(col, row, members, ctrl, oper, ensm, ylim, ystep, ylabel, name,
          dotted=(), magenta=None, zero=False):
    l = col_left[col] / W
    b = 1 - row_bot[row] / H
    h = (row_bot[row] - row_top[row]) / H
    ax = fig.add_axes([l, b, 290 / W, h])

    for m in members:
        n = min(len(m), len(t12))
        ax.plot(t12[:n], m[:n], color=C_ENS, lw=0.9, alpha=0.75, zorder=2)
    for y in dotted:
        ax.axhline(y, color='black', ls=(0, (1, 1.5)), lw=0.7, zorder=1)
    if magenta is not None:
        ax.axhline(magenta, color='#ff33ff', ls=(0, (4, 2)), lw=1.0, zorder=1)
    if zero:
        ax.axhline(0, color='black', lw=2.0, zorder=3)

    ax.plot(t6[:len(oper)], oper, color=C_OPER, lw=1.3, zorder=4)
    ax.plot(t6[:len(ctrl)], ctrl, color=C_CTRL, lw=1.3, ls=(0, (3, 1.5)), zorder=5)
    ax.plot(t6[:len(ensm)], ensm, color=C_MEAN, lw=1.8, ls=(0, (1, 1)), zorder=6)

    ax.set_xlim(0, 15)
    ax.set_ylim(*ylim)
    yt = np.arange(ylim[0], ylim[1] + ystep / 2, ystep)
    ax.set_yticks(yt)
    ax.set_yticklabels([f'{v:g}' for v in yt])
    ax.tick_params(axis='y', labelsize=5.6, length=2, pad=1.5, right=True, labelright=True)

    ax.set_xticks(np.arange(16))
    ax.set_xticklabels(['00'] * 16)
    ax.set_xticks(np.arange(15) + 0.5, minor=True)
    ax.set_xticklabels(days, minor=True)
    ax.tick_params(axis='x', which='major', labelsize=3.6, length=0, pad=1)
    ax.tick_params(axis='x', which='minor', labelsize=5.6, length=0, pad=3.0)
    ax.set_xlabel('Dag', fontsize=7.8, fontweight='bold', labelpad=-0.5)
    ax.set_ylabel(ylabel, fontsize=7.8, fontweight='bold')
    ax.yaxis.set_label_coords(-0.052, 0.5)
    ax.set_title(title, fontsize=6.9, pad=3.5)
    for s in ax.spines.values():
        s.set_linewidth(0.8)

    handles = [Line2D([], [], color=C_CTRL, lw=1.3, ls=(0, (3, 1.5))),
               Line2D([], [], color=C_OPER, lw=1.3),
               Line2D([], [], color=C_MEAN, lw=1.8, ls=(0, (1, 1)))]
    ax.legend(handles, ['Control', 'Oper', 'Ens mn'], loc='upper left', frameon=False,
              fontsize=4.3, handlelength=3.6, handletextpad=2.2, labelspacing=0.05,
              borderaxespad=0.3)

    ax.text(0.885, 0.955, 'De Bilt', transform=ax.transAxes, ha='center', va='center', fontsize=6.2)
    ax.text(0.885, 0.885, name, transform=ax.transAxes, ha='center', va='center', fontsize=6.2)

    xr = (346 * col + 333) / W
    yb = 1 - (163 * row + 155) / H
    fig.text(xr, yb, 'Bron: ECMWF/KNMI', ha='right', va='center', fontsize=4.2,
             color='#2222ee', fontweight='bold')
    return ax


panel(0, 0, pr_members, pr_ctrl, pr_oper, pr_mean, (0, 20), 5, 'mm', 'Neerslag/6 uur', dotted=[15])
panel(1, 0, ac_members, ac_ctrl, ac_oper, ac_mean, (0, 100), 20, 'mm', 'Accum Neerslag')
panel(0, 1, wi_members, wi_ctrl, wi_oper, wi_mean, (0, 20), 2, 'm/s', '10m wind',
      dotted=[10.8, 13.9, 17.2])
panel(1, 1, gu_members, gu_ctrl, gu_oper, gu_mean, (0, 40), 5, 'm/s', 'Windstoten',
      dotted=[20, 25], magenta=28.5)
panel(0, 2, tt_members, tt_ctrl, tt_oper, tt_mean, (-15, 15), 5, 'Celsius', 'T2m', zero=True)
panel(1, 2, sn_members, sn_ctrl, sn_oper, sn_mean, (0, 8), 1, 'cm', 'Sneeuwval/6 uur', magenta=5)

fig.savefig('out.png', dpi=100)
